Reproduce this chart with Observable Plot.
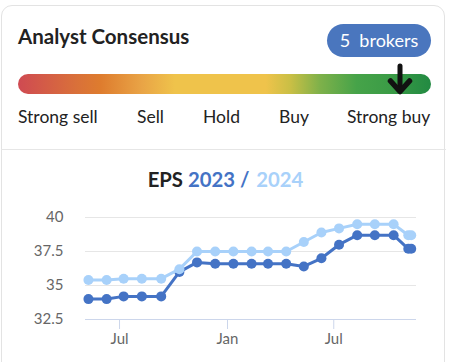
<!DOCTYPE html>
<html>
<head>
<meta charset="utf-8">
<script src="https://cdn.jsdelivr.net/npm/d3@7"></script>
<script src="https://cdn.jsdelivr.net/npm/@observablehq/plot@0.6"></script>
<style>
  html, body { margin: 0; padding: 0; background: #fff; width: 451px; height: 362px; overflow: hidden; font-family: Lato, "Open Sans", sans-serif; }
  #card { position: absolute; left: 1px; top: 5px; width: 444px; height: 400px; border: 1px solid #e3e3e3; border-radius: 11px; box-sizing: border-box; }
  #title { position: absolute; left: 18px; top: 24px; font-size: 20.5px; font-weight: 700; color: #222; line-height: 24px; white-space: nowrap; }
  #badge { position: absolute; left: 327px; top: 24px; width: 104px; height: 33px; border-radius: 17px; background: #4a76be; color: #fff; font-size: 18px; line-height: 33px; text-align: center; white-space: pre; }
  #bar { position: absolute; left: 18px; top: 74px; width: 413px; height: 20px; border-radius: 10px;
    background: linear-gradient(to right, #cf4a52 0%, #d9703a 14%, #de7c2e 20%, #e9a446 30%, #efc34b 38%, #efc34b 60%, #c9bf45 66%, #7fb14a 73%, #46a349 82%, #3b9c46 90%, #228a42 100%); }
  #arrow { position: absolute; left: 385px; top: 60px; }
  .lbl { position: absolute; top: 106px; font-size: 17.5px; color: #222; line-height: 22px; white-space: nowrap; }
  #divider { position: absolute; left: 1px; top: 149px; width: 445px; height: 1px; background: #e6e6e6; }
  #eps { position: absolute; left: 0; top: 167px; width: 451px; text-align: center; font-size: 20.3px; font-weight: 700; line-height: 24px; white-space: pre; }
  #chart { position: absolute; left: 0; top: 196px; }
</style>
</head>
<body>
<div id="card"></div>
<div id="title">Analyst Consensus</div>
<div id="badge"></div>
<div id="bar"></div>
<svg id="arrow" width="30" height="40" viewBox="0 0 30 40">
  <line x1="15" y1="6" x2="15" y2="30" stroke="#111" stroke-width="5" stroke-linecap="round"/>
  <polyline points="5.5,21 15,31.5 24.5,21" fill="none" stroke="#111" stroke-width="5.5" stroke-linecap="round" stroke-linejoin="round"/>
</svg>
<div id="labels"></div>
<div id="divider"></div>
<div id="eps"></div>
<div id="chart"></div>
<script>
// ---- data ----
const brokerCount = 5;
const ratingLabels = ["Strong sell", "Sell", "Hold", "Buy", "Strong buy"];
const ratingLabelLeft = [18, 137, 203, 279, 347];
const seriesNames = ["2023", "2024"];
const dates = [
  "2022-05-09", "2022-06-09", "2022-07-08", "2022-08-08", "2022-09-10",
  "2022-10-11", "2022-11-10", "2022-12-11", "2023-01-11", "2023-02-11",
  "2023-03-11", "2023-04-11", "2023-05-11", "2023-06-10", "2023-07-10",
  "2023-08-10", "2023-09-09", "2023-10-11", "2023-11-05", "2023-11-10"
];
const eps2023 = [34.0, 34.0, 34.2, 34.2, 34.2, 36.0, 36.7, 36.6, 36.6, 36.6,
                 36.6, 36.6, 36.4, 37.0, 38.0, 38.7, 38.7, 38.7, 37.7, 37.7];
const eps2024 = [35.4, 35.4, 35.5, 35.5, 35.5, 36.2, 37.5, 37.5, 37.5, 37.5,
                 37.5, 37.5, 38.2, 38.9, 39.2, 39.5, 39.5, 39.5, 38.7, 38.7];
const yTicks = [32.5, 35, 37.5, 40];
const xTicks = ["2022-07-01", "2023-01-01", "2023-07-01"];
const xDomain = ["2022-05-04", "2023-11-19"];

// ---- header ----
document.getElementById("badge").textContent = brokerCount + "  brokers";
const labelsDiv = document.getElementById("labels");
ratingLabels.forEach((t, i) => {
  const d = document.createElement("div");
  d.className = "lbl";
  d.style.left = ratingLabelLeft[i] + "px";
  d.textContent = t;
  labelsDiv.appendChild(d);
});
const dark = "#4473c5", light = "#a8d1fa";
document.getElementById("eps").innerHTML =
  `<span style="color:#222">EPS </span><span style="color:${dark}">${seriesNames[0]} / </span><span style="color:${light};margin-left:2px">${seriesNames[1]}</span>`;

// ---- chart ----
const parse = d3.utcParse("%Y-%m-%d");
const d23 = dates.map((d, i) => ({date: parse(d), value: eps2023[i]}));
const d24 = dates.map((d, i) => ({date: parse(d), value: eps2024[i]}));

const chart = Plot.plot({
  width: 451,
  height: 166,
  marginLeft: 85,
  marginRight: 35,
  marginTop: 21,
  marginBottom: 43,
  style: {fontFamily: "Lato, sans-serif", fontSize: "15px", background: "transparent"},
  x: {type: "utc", domain: xDomain.map(parse)},
  y: {domain: [32.5, 40]},
  marks: [
    Plot.gridY(yTicks.filter(v => v > 32.5), {stroke: "#e6e6e6", strokeOpacity: 1}),
    Plot.ruleY([32.5], {stroke: "#ccd6eb"}),
    Plot.axisY(yTicks, {tickSize: 0, tickPadding: 22, fill: "#666", tickFormat: d => String(d), label: null}),
    Plot.axisX(xTicks.map(parse), {tickSize: 10, tickPadding: 4, stroke: "#ccd6eb", fill: "#666", tickFormat: d3.utcFormat("%b"), label: null}),
    Plot.line(d23, {x: "date", y: "value", stroke: dark, strokeWidth: 3}),
    Plot.dot(d23, {x: "date", y: "value", fill: dark, r: 5}),
    Plot.line(d24, {x: "date", y: "value", stroke: light, strokeWidth: 3}),
    Plot.dot(d24, {x: "date", y: "value", fill: light, r: 5})
  ]
});
document.getElementById("chart").appendChild(chart);
</script>
</body>
</html>
